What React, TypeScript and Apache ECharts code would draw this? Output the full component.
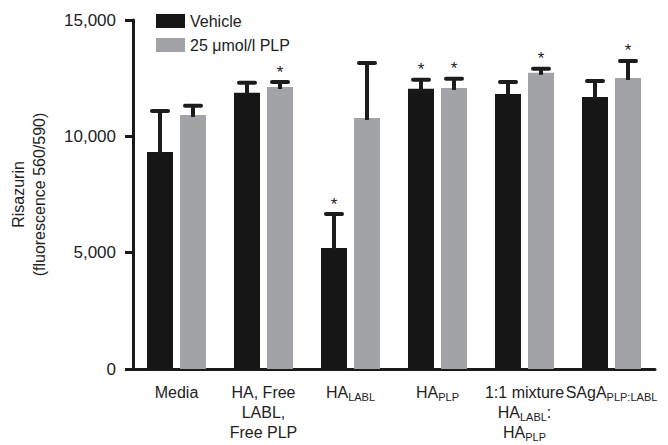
import React, { useEffect, useRef } from "react";
import * as echarts from "echarts";

const categories = [
  "Media",
  "HA, Free\nLABL,\nFree PLP",
  "HA{s|LABL}",
  "HA{s|PLP}",
  "1:1 mixture\nHA{s|LABL}:\nHA{s|PLP}",
  "SAgA{s|PLP:LABL}",
];
const vehicleMean = [9330, 11870, 5200, 12040, 11820, 11690];
const vehicleErr = [1760, 430, 1460, 390, 515, 690];
const vehicleSig = [false, false, true, true, false, false];
const plpMean = [10920, 12120, 10790, 12080, 12730, 12510];
const plpErr = [390, 215, 2365, 390, 170, 730];
const plpSig = [false, true, false, true, true, true];
const yTicks = [0, 5000, 10000, 15000];
const seriesNames = ["Vehicle", "25 μmol/l PLP"];

const FONT = '"Liberation Sans", Arial, sans-serif';
const BLACK = "#161616";
const GRAY = "#a2a3a7";

function errSeries(mean: number[], err: number[], sig: boolean[], offset: number) {
  return {
    type: "custom",
    z: 5,
    silent: true,
    encode: { x: 0, y: 1 },
    data: mean.map((m, i) => [i, m, err[i], sig[i] ? 1 : 0]),
    renderItem: (params: any, api: any) => {
      const i = api.value(0);
      const m = api.value(1);
      const e = api.value(2);
      const s = api.value(3);
      const base = api.coord([i, m]);
      const top = api.coord([i, m + e]);
      const x = base[0] + offset;
      const children: any[] = [
        {
          type: "line",
          shape: { x1: x, y1: base[1] + 2, x2: x, y2: top[1] },
          style: { stroke: "#1c1c1c", lineWidth: 4 },
        },
        {
          type: "line",
          shape: { x1: x - 8, y1: top[1], x2: x + 8, y2: top[1] },
          style: { stroke: "#1c1c1c", lineWidth: 4, lineCap: "round" },
        },
      ];
      if (s) {
        children.push({
          type: "text",
          style: {
            x: x,
            y: top[1] - 10,
            text: "*",
            fontSize: 17,
            fontFamily: FONT,
            fill: "#222",
            align: "center",
            verticalAlign: "middle",
          },
        });
      }
      return { type: "group", children };
    },
  };
}

export default function App() {
  const ref = useRef<HTMLDivElement>(null);
  useEffect(() => {
    if (!ref.current) return;
    const chart = echarts.init(ref.current, null, { renderer: "svg" });
    chart.setOption({
      animation: false,
      textStyle: { fontFamily: FONT },
      grid: { left: 130, right: 13, top: 20, bottom: 76 },
      legend: {
        data: seriesNames,
        orient: "vertical",
        left: 151,
        top: 8,
        itemWidth: 29,
        itemHeight: 14,
        itemGap: 8,
        icon: "rect",
        textStyle: { fontSize: 16, color: "#222", fontFamily: FONT },
      },
      xAxis: {
        type: "category",
        data: categories,
        axisLine: { lineStyle: { color: "#1a1a1a", width: 3 } },
        axisTick: { alignWithLabel: true, length: 6, lineStyle: { width: 3, color: "#1a1a1a" } },
        axisLabel: {
          interval: 0,
          margin: 13,
          fontSize: 16,
          lineHeight: 20,
          color: "#222",
          fontFamily: FONT,
          rich: {
            s: { fontSize: 11, lineHeight: 9, verticalAlign: "bottom", color: "#222", fontFamily: FONT },
          },
        },
      },
      yAxis: {
        type: "value",
        min: yTicks[0],
        max: yTicks[yTicks.length - 1],
        interval: 5000,
        name: "Risazurin\n(fluorescence 560/590)",
        nameLocation: "middle",
        nameGap: 83,
        nameTextStyle: { fontSize: 16, lineHeight: 21, color: "#222", fontFamily: FONT },
        splitLine: { show: false },
        axisLine: { show: true, lineStyle: { color: "#1a1a1a", width: 3 } },
        axisTick: { show: true, length: 8, lineStyle: { width: 3, color: "#1a1a1a" } },
        axisLabel: {
          margin: 17,
          fontSize: 17,
          color: "#222",
          fontFamily: FONT,
          formatter: (v: number) => v.toLocaleString("en-US"),
        },
      },
      series: [
        {
          name: seriesNames[0],
          type: "bar",
          data: vehicleMean,
          barWidth: 26,
          barGap: "27%",
          itemStyle: { color: BLACK },
        },
        {
          name: seriesNames[1],
          type: "bar",
          data: plpMean,
          barWidth: 26,
          barGap: "27%",
          itemStyle: { color: GRAY },
        },
        errSeries(vehicleMean, vehicleErr, vehicleSig, -16.5),
        errSeries(plpMean, plpErr, plpSig, 16.5),
      ],
    });
    return () => chart.dispose();
  }, []);
  return (
    <div
      ref={ref}
      style={{ position: "absolute", left: 0, top: 0, width: 668, height: 445 }}
    />
  );
}
